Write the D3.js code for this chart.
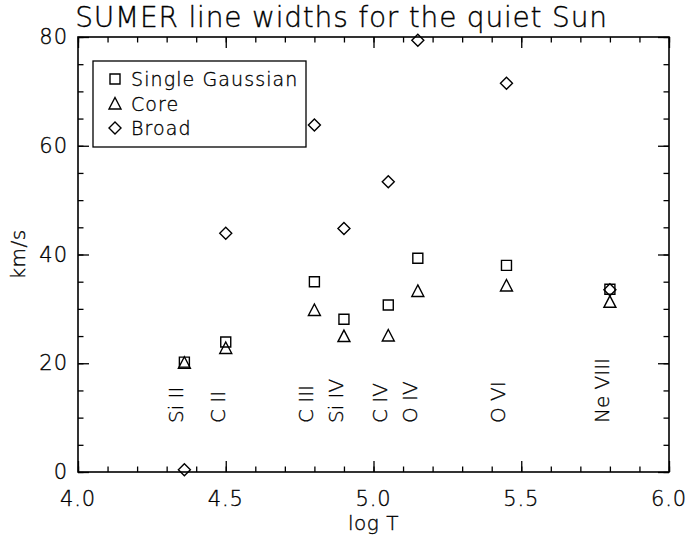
<!DOCTYPE html>
<html>
<head>
<meta charset="utf-8">
<script src="https://cdn.jsdelivr.net/npm/d3@7"></script>
<style>
  body { margin: 0; background: #fff; }
  text { font-family: "DejaVu Sans", sans-serif; font-weight: 200; fill: #000; stroke: #000; stroke-width: 0.35px; }
</style>
</head>
<body>
<div id="chart"></div>
<script>
// line formation temperatures and widths (km/s)
var ions = ['Si II', 'C II', 'C III', 'Si IV', 'C IV', 'O IV', 'O VI', 'Ne VIII'];
var logT = [4.36, 4.5, 4.8, 4.9, 5.05, 5.15, 5.45, 5.8];
var singleGaussian = [20.2, 23.9, 35.0, 28.1, 30.7, 39.3, 38.0, 33.6];
var core = [20.1, 22.8, 29.8, 25.0, 25.1, 33.3, 34.3, 31.3];
var broad = [0.4, 43.9, 63.8, 44.8, 53.4, 79.4, 71.5, 33.5];
var xTicks = [4.0, 4.5, 5.0, 5.5, 6.0];
var yTicks = [0, 20, 40, 60, 80];
var legendNames = ['Single Gaussian', 'Core', 'Broad'];

var W = 685, H = 543;
var margin = { top: 37, right: 16, bottom: 71, left: 78 };
var width = W - margin.left - margin.right;
var height = H - margin.top - margin.bottom;

var x = d3.scaleLinear().domain([4, 6]).range([0, width]);
var y = d3.scaleLinear().domain([0, 80]).range([height, 0]);

var svg = d3.select('#chart').append('svg')
  .attr('width', W)
  .attr('height', H);

svg.append('text')
  .attr('x', margin.left + width / 2 - 32)
  .attr('y', 27)
  .attr('text-anchor', 'middle')
  .style('font-size', '28px')
  .style('letter-spacing', '0.8px')
  .text('SUMER line widths for the quiet Sun');

var g = svg.append('g')
  .attr('transform', 'translate(' + margin.left + ',' + margin.top + ')');

// tick marks: minor every 0.1 / 5, major every 0.5 / 20
var xMinor = d3.range(40, 61).map(function (d) { return d / 10; });
var yMinor = d3.range(0, 81, 5);

function tickAxis(axis, ticks, size, transform) {
  g.append('g')
    .attr('transform', transform)
    .call(axis.tickValues(ticks).tickSize(size).tickFormat(''))
    .call(function (s) { s.select('.domain').remove(); });
}

tickAxis(d3.axisTop(x), xMinor, 5.5, 'translate(0,' + height + ')');
tickAxis(d3.axisTop(x), xTicks, 11, 'translate(0,' + height + ')');
tickAxis(d3.axisBottom(x), xMinor, 5.5, 'translate(0,0)');
tickAxis(d3.axisBottom(x), xTicks, 11, 'translate(0,0)');
tickAxis(d3.axisRight(y), yMinor, 5.5, 'translate(0,0)');
tickAxis(d3.axisRight(y), yTicks, 11, 'translate(0,0)');
tickAxis(d3.axisLeft(y), yMinor, 5.5, 'translate(' + width + ',0)');
tickAxis(d3.axisLeft(y), yTicks, 11, 'translate(' + width + ',0)');

g.selectAll('.tick line').attr('stroke', '#000').attr('stroke-width', 1.3);

g.append('rect')
  .attr('width', width)
  .attr('height', height)
  .attr('fill', 'none')
  .attr('stroke', '#000')
  .attr('stroke-width', 1.6);

// tick labels
g.selectAll('.xlab')
  .data(xTicks)
  .enter().append('text')
  .attr('x', function (d) { return x(d); })
  .attr('y', height + 34)
  .attr('text-anchor', 'middle')
  .style('font-size', '21px')
  .style('letter-spacing', '0.8px')
  .text(function (d) { return d.toFixed(1); });

g.selectAll('.ylab')
  .data(yTicks)
  .enter().append('text')
  .attr('x', -10)
  .attr('y', function (d) { return y(d) + 7; })
  .attr('text-anchor', 'end')
  .style('font-size', '21px')
  .style('letter-spacing', '1px')
  .text(function (d) { return d; });

svg.append('text')
  .attr('x', margin.left + width / 2)
  .attr('y', 530)
  .attr('text-anchor', 'middle')
  .style('font-size', '20px')
  .style('letter-spacing', '0.5px')
  .text('log T');

svg.append('text')
  .attr('transform', 'translate(25,' + (margin.top + height / 2) + ') rotate(-90)')
  .attr('text-anchor', 'middle')
  .style('font-size', '20px')
  .style('letter-spacing', '0.5px')
  .text('km/s');

// ion labels, rotated
g.selectAll('.ion')
  .data(ions)
  .enter().append('text')
  .attr('transform', function (d, i) {
    return 'translate(' + (x(logT[i]) - 1) + ',' + y(9) + ') rotate(-90)';
  })
  .style('font-size', '20px')
  .text(function (d) { return d; });

// symbols
var symbols = {
  square: 'M-5,-5h10v10h-10z',
  triangle: 'M0,-6L6,5.5H-6z',
  diamond: 'M0,-6L6,0L0,6L-6,0z'
};

function plotSeries(values, shape) {
  g.selectAll('.p-' + shape)
    .data(values)
    .enter().append('path')
    .attr('d', symbols[shape])
    .attr('transform', function (d, i) {
      return 'translate(' + x(logT[i]) + ',' + y(d) + ')';
    })
    .attr('fill', 'none')
    .attr('stroke', '#000')
    .attr('stroke-width', 1.4);
}

plotSeries(singleGaussian, 'square');
plotSeries(core, 'triangle');
plotSeries(broad, 'diamond');

// legend
var legend = svg.append('g').attr('transform', 'translate(93,61)');
legend.append('rect')
  .attr('width', 213)
  .attr('height', 86)
  .attr('fill', '#fff')
  .attr('stroke', '#000')
  .attr('stroke-width', 1.3);

var shapes = ['square', 'triangle', 'diamond'];
legendNames.forEach(function (name, i) {
  var row = 18 + i * 24.5;
  legend.append('path')
    .attr('d', symbols[shapes[i]])
    .attr('transform', 'translate(22,' + row + ')')
    .attr('fill', 'none')
    .attr('stroke', '#000')
    .attr('stroke-width', 1.4);
  legend.append('text')
    .attr('x', 38)
    .attr('y', row + 7)
    .style('font-size', '19px')
    .style('letter-spacing', '1.1px')
    .text(name);
});
</script>
</body>
</html>
